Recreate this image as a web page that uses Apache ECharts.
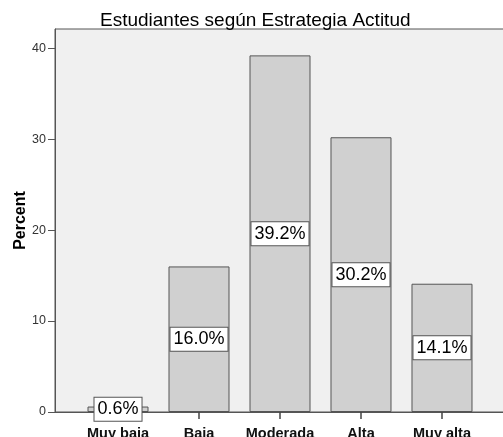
<!DOCTYPE html>
<html>
<head>
<meta charset="utf-8">
<script src="https://cdn.jsdelivr.net/npm/echarts@6/dist/echarts.min.js"></script>
<style>html,body{margin:0;padding:0;background:#fff;}#c{width:503px;height:437px;}</style>
</head>
<body>
<div id="c"></div>
<script>
var categories = ['Muy baja', 'Baja', 'Moderada', 'Alta', 'Muy alta'];
var percents = [0.6, 16.0, 39.2, 30.2, 14.1];
var yTicks = [0, 10, 20, 30, 40];
var xTicks = [0, 1, 2, 3, 4];
var titleText = 'Estudiantes según Estrategia Actitud';

var chart = echarts.init(document.getElementById('c'));
var barData = percents.map(function (v, i) { return [i, v]; });
chart.setOption({
  animation: false,
  textStyle: { fontFamily: 'Liberation Sans, Arial, sans-serif' },
  title: {
    text: titleText,
    left: 100,
    top: 11,
    padding: 0,
    textStyle: { fontSize: 19, fontWeight: 'normal', color: '#000', fontFamily: 'Liberation Sans, Arial, sans-serif' }
  },
  grid: {
    left: 55, top: 29, right: -5, bottom: 25,
    outerBoundsMode: 'none',
    containLabel: false,
    show: true, backgroundColor: '#f0f0f0', borderColor: '#555', borderWidth: 1
  },
  xAxis: {
    type: 'value',
    min: -0.778,
    max: 4.815,
    splitLine: { show: false },
    axisLine: { show: true, onZero: false, lineStyle: { color: '#555' } },
    axisTick: { show: true, length: 7, lineStyle: { color: '#444', width: 1.5 }, customValues: xTicks },
    axisLabel: {
      customValues: xTicks,
      formatter: function (v) { return categories[Math.round(v)]; },
      fontSize: 14.5, fontWeight: 'bold', color: '#111', margin: 14
    }
  },
  yAxis: {
    type: 'value',
    min: 0,
    max: 42.1,
    name: 'Percent',
    nameLocation: 'middle',
    nameGap: 26,
    nameMoveOverlap: false,
    nameTextStyle: { fontSize: 16, fontWeight: 'bold', color: '#000' },
    splitLine: { show: false },
    axisLine: { show: true, onZero: false, lineStyle: { color: '#555' } },
    axisTick: { show: true, length: 7, lineStyle: { color: '#555' }, customValues: yTicks },
    axisLabel: { customValues: yTicks, fontSize: 12.5, color: '#333', margin: 9 }
  },
  series: [{
    type: 'bar',
    data: barData,
    barWidth: 61,
    itemStyle: { color: '#d0d0d0', borderColor: '#555', borderWidth: 1 },
    label: {
      show: true,
      position: 'inside',
      formatter: function (p) { return p.value[1].toFixed(1) + '%'; },
      fontSize: 18,
      color: '#000',
      backgroundColor: '#fff',
      borderColor: '#555',
      borderWidth: 1,
      padding: [3, 3, 2, 3]
    }
  }]
});
</script>
</body>
</html>
